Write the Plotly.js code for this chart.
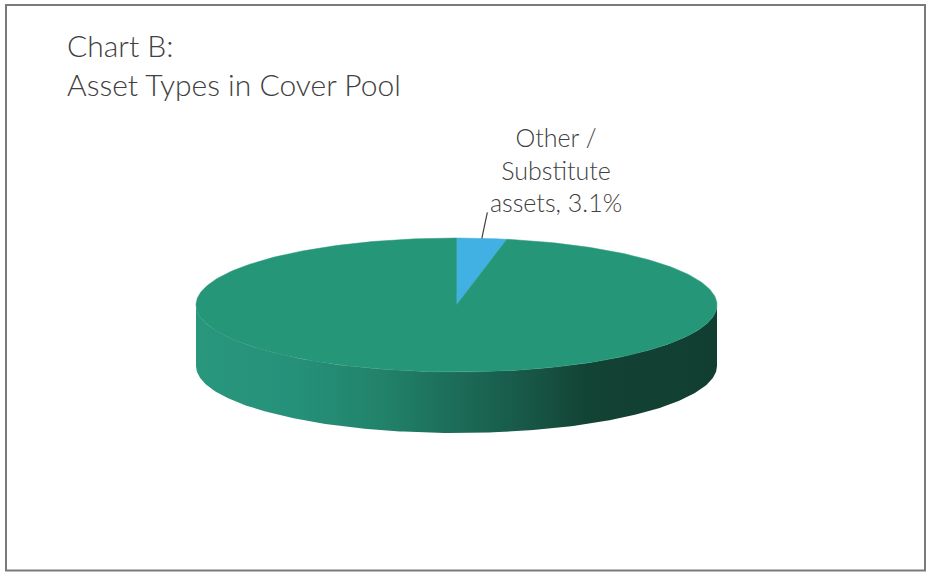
<!DOCTYPE html>
<html>
<head>
<meta charset="utf-8">
<script src="https://cdn.plot.ly/plotly-3.0.1.min.js"></script>
<style>html,body{margin:0;padding:0;background:#fff;}#chart{width:932px;height:572px;}</style>
</head>
<body>
<div id="chart"></div>
<script>
// ---- data ----
const categories = ['Other / Substitute assets', 'Mortgage loans'];
const values = [3.1, 96.9];
const sliceLabels = ['Other /<br>Substitute<br>assets, 3.1%', ''];
const topColors = ['#41b0e3', '#269679'];

// ---- 3D pie geometry (styling) ----
const W = 932, H = 572;
const cx = 456.5, cy = 305, rx = 260.5, ry = 67, depth = 61;
const FONT = 'Lato, "Open Sans", sans-serif';

function rim(theta, dy) {
  return [cx + rx * Math.sin(theta), cy - ry * Math.cos(theta) + (dy || 0)];
}
function arc(a0, a1, dy, n) {
  const pts = [];
  for (let i = 0; i <= n; i++) {
    pts.push(rim(a0 + (a1 - a0) * i / n, dy));
  }
  return pts;
}

const total = values.reduce((a, b) => a + b, 0);
const angles = [];
let acc = 0;
values.forEach(v => {
  const a0 = acc / total * 2 * Math.PI;
  acc += v;
  const a1 = acc / total * 2 * Math.PI;
  angles.push([a0, a1]);
});

const traces = [];
const sideScale = [
  [0, '#28977c'], [0.18, '#26917a'], [0.35, '#22836b'], [0.5, '#1c6c58'],
  [0.62, '#185a49'], [0.75, '#134334'], [1, '#113e31']
];

// sides (front half only: theta in [pi/2, 3pi/2])
angles.forEach(([a0, a1], i) => {
  const s0 = Math.max(a0, Math.PI / 2), s1 = Math.min(a1, 3 * Math.PI / 2);
  if (s1 <= s0) return;
  const top = arc(s0, s1, 0, 200);
  const bot = arc(s1, s0, depth, 200);
  const pts = top.concat(bot);
  pts.push(top[0]);
  traces.push({
    type: 'scatter', mode: 'lines', x: pts.map(p => p[0]), y: pts.map(p => p[1]),
    fill: 'toself', line: {width: 0, color: 'rgba(0,0,0,0)'},
    fillgradient: {type: 'horizontal', colorscale: sideScale, start: cx - rx, stop: cx + rx},
    hoverinfo: 'skip', showlegend: false, name: categories[i]
  });
});

// top faces
angles.forEach(([a0, a1], i) => {
  const n = Math.max(20, Math.round((a1 - a0) / (2 * Math.PI) * 400));
  const pts = [[cx, cy]].concat(arc(a0, a1, 0, n));
  pts.push([cx, cy]);
  traces.push({
    type: 'scatter', mode: 'lines', x: pts.map(p => p[0]), y: pts.map(p => p[1]),
    fill: 'toself', fillcolor: topColors[i], line: {width: 0.5, color: topColors[i]},
    hoverinfo: 'text', text: categories[i] + ': ' + values[i] + '%',
    showlegend: false, name: categories[i]
  });
});

// labels with leader line
const annotations = [];
angles.forEach(([a0, a1], i) => {
  if (!sliceLabels[i]) return;
  const mid = (a0 + a1) / 2;
  const p = rim(mid, 0);
  const q = [p[0] + 5.5, p[1] - 26];
  traces.push({
    type: 'scatter', mode: 'lines', x: [p[0], q[0]], y: [p[1], q[1]],
    line: {color: '#404040', width: 1.2}, hoverinfo: 'skip', showlegend: false
  });
  annotations.push({
    x: q[0] + 69, y: q[1] - 43, xref: 'x', yref: 'y', text: sliceLabels[i],
    showarrow: false, xanchor: 'center', yanchor: 'middle', align: 'center',
    font: {family: FONT, size: 25, color: '#404040', weight: 300}
  });
});

const layout = {
  width: W, height: H,
  margin: {l: 0, r: 0, t: 0, b: 0},
  paper_bgcolor: '#ffffff', plot_bgcolor: '#ffffff',
  xaxis: {range: [0, W], visible: false, fixedrange: true},
  yaxis: {range: [H, 0], visible: false, fixedrange: true},
  title: {
    text: 'Chart B:<br>Asset Types in Cover Pool',
    x: 67 / W, xanchor: 'left', xref: 'paper',
    y: 1 - 57 / H, yanchor: 'top', yref: 'container',
    font: {family: FONT, size: 30, color: '#404040', weight: 300}
  },
  annotations: annotations,
  shapes: [{
    type: 'rect', xref: 'x', yref: 'y', x0: 6, y0: 5, x1: 925, y1: 570.5,
    line: {color: '#7a7a7a', width: 2}, layer: 'above'
  }],
  showlegend: false
};

Plotly.newPlot('chart', traces, layout, {displayModeBar: false, staticPlot: false});
</script>
</body>
</html>
